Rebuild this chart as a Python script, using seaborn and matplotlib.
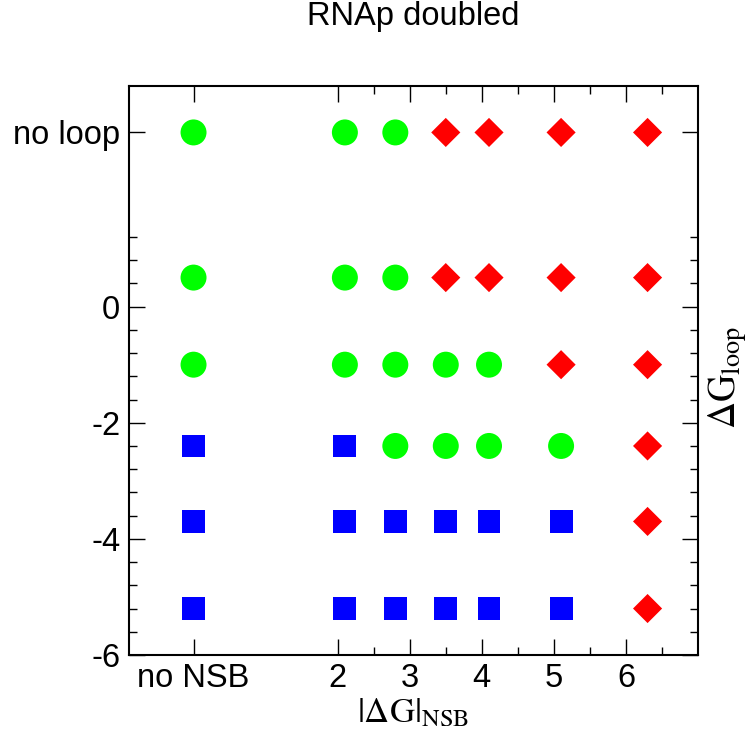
import numpy as np
import pandas as pd
import matplotlib
matplotlib.use("Agg")
import matplotlib.pyplot as plt
from matplotlib.ticker import FixedLocator
import seaborn as sns

# |dG|_NSB values (0 stands for "no NSB")
nsb_values = [0, 2.1, 2.8, 3.5, 4.1, 5.1, 6.3]
# dG_loop values (3 stands for "no loop")
loop_values = [3, 0.5, -1, -2.4, -3.7, -5.2]
# outcome for each (loop row, NSB column): G = green circle, R = red diamond, B = blue square
outcome_rows = [
    "GGGRRRR",
    "GGGRRRR",
    "GGGGGRR",
    "BBGGGGR",
    "BBBBBBR",
    "BBBBBBR",
]

x_tick_values = [0, 2, 3, 4, 5, 6]
x_tick_labels = ["no NSB", "2", "3", "4", "5", "6"]
y_tick_values = [-6, -4, -2, 0, 3]
y_tick_labels = ["-6", "-4", "-2", "0", "no loop"]

records = []
for yv, row in zip(loop_values, outcome_rows):
    for xv, code in zip(nsb_values, row):
        records.append({"nsb": xv, "loop": yv, "state": code})
df = pd.DataFrame(records)

sns.set_style("ticks")
plt.rcParams["font.family"] = ["Liberation Sans", "DejaVu Sans"]
plt.rcParams["mathtext.fontset"] = "stix"
for key in ("text.color", "axes.labelcolor", "xtick.color", "ytick.color",
            "xtick.labelcolor", "ytick.labelcolor", "axes.edgecolor"):
    plt.rcParams[key] = "black"

fig = plt.figure(figsize=(7.56, 7.4), dpi=100)
ax = fig.add_axes([0.1702, 0.1149, 0.7531, 0.7689])

palette = {"G": "#00ff00", "R": "#ff0000", "B": "#0000ff"}
markers = {"G": "o", "R": "D", "B": "s"}
sizes = {"G": 350, "R": 220, "B": 272}

sns.scatterplot(
    data=df, x="nsb", y="loop",
    hue="state", style="state", size="state",
    palette=palette, markers=markers, sizes=sizes,
    linewidth=0, legend=False, ax=ax, zorder=3,
)

ax.set_xlim(-0.9, 7.0)
ax.set_ylim(-6, 3.8)

ax.xaxis.set_major_locator(FixedLocator(x_tick_values))
ax.set_xticklabels(x_tick_labels)
ax.xaxis.set_minor_locator(FixedLocator([2.5, 3.5, 4.5, 5.5, 6.5]))
ax.yaxis.set_major_locator(FixedLocator(y_tick_values))
ax.set_yticklabels(y_tick_labels)
y_minor = [v for v in np.round(np.arange(-6, 1.21, 0.4), 2) if v not in (-6, -4, -2, 0)]
ax.yaxis.set_minor_locator(FixedLocator(y_minor))

ax.tick_params(which="both", direction="in", top=True, right=True,
               color="black", labelcolor="black", width=1.0, labelsize=23.5)
ax.tick_params(which="major", length=11.5, pad=6)
ax.tick_params(which="minor", length=5.8)

for sp in ax.spines.values():
    sp.set_visible(True)
    sp.set_linewidth(1.5)
    sp.set_color("black")

ax.set_xlabel("")
ax.set_ylabel("")
ax.text(0.5, -0.102, r"$|\mathrm{\Delta G}|_{\mathrm{NSB}}$", transform=ax.transAxes,
        ha="center", va="center", fontsize=25, color="black")
ax.text(1.052, 0.488, r"$\mathrm{\Delta G}_{\mathrm{loop}}$", transform=ax.transAxes,
        ha="center", va="center", rotation=90, fontsize=27, color="black")

fig.text(413 / 756, 1 - 17 / 740, "RNAp doubled", ha="center", va="center",
         fontsize=23.5, color="black")

fig.savefig("out.png", dpi=100)
